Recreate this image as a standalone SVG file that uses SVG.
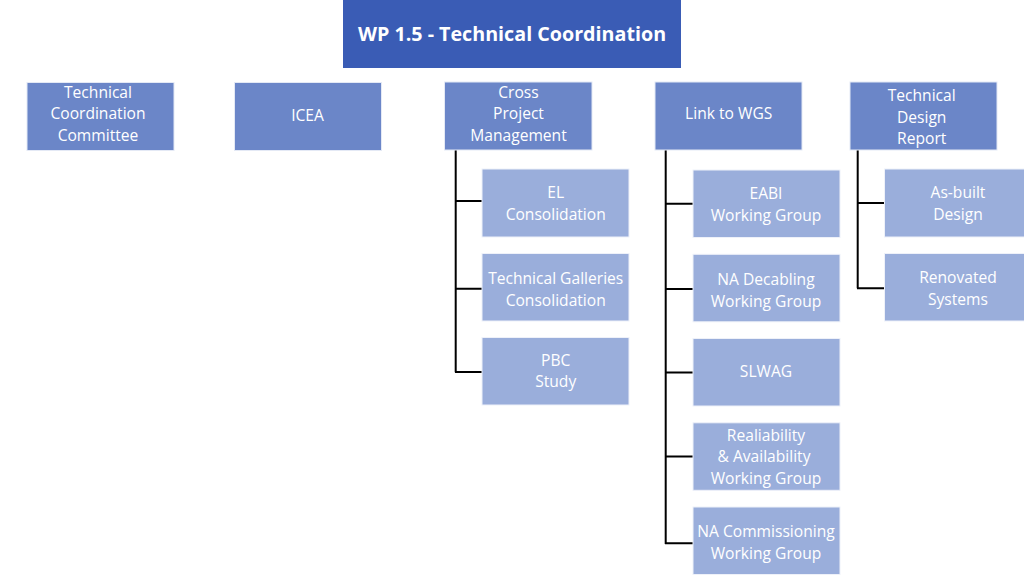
<svg xmlns="http://www.w3.org/2000/svg" width="1024" height="576" viewBox="0 0 1024 576">
<style>
text{font-family:"Open Sans","Noto Sans","Liberation Sans",sans-serif;fill:#ffffff;text-anchor:middle;font-size:15.6px}
.top rect{fill:#3A5CB5}
.l1 rect{fill:#6B86C8;stroke:#E4E9F5;stroke-width:1}
.l2 rect{fill:#9AAEDB;stroke:#EEF1F9;stroke-width:1}
.title{font-size:19.7px;font-weight:bold}
.conn path{fill:none;stroke:#000;stroke-width:2}
</style>
<rect width="1024" height="576" fill="#ffffff"/>
<g id="wp15" class="top"><rect x="343" y="0" width="338" height="68"/><text class="title" x="512" y="41">WP 1.5 - Technical Coordination</text></g>
<g class="conn" id="connectors">
<path d="M455.7 150V372.3M455 201H482M455 288.7H482M455 372H482"/>
<path d="M665.7 150V544M665 203.7H693M665 289H693M665 372.5H693M665 456.5H693M665 543.3H693"/>
<path d="M857.7 150V288.3M857 203H884M857 288.3H884"/>
</g>
<g id="tcc" class="l1"><rect x="27" y="82.5" width="147" height="68"/><text x="98" y="97.5">Technical</text><text x="98" y="119.3">Coordination</text><text x="98" y="141">Committee</text></g>
<g id="icea" class="l1"><rect x="234.5" y="82.5" width="147" height="68"/><text x="307.5" y="120.5">ICEA</text></g>
<g id="cpm" class="l1"><rect x="444.5" y="82" width="147.5" height="68"/><text x="518.5" y="97.7">Cross</text><text x="518.5" y="119.3">Project</text><text x="518.5" y="141">Management</text></g>
<g id="link" class="l1"><rect x="655" y="82" width="147" height="68"/><text x="728.7" y="119">Link to WGS</text></g>
<g id="tdr" class="l1"><rect x="850" y="82" width="147" height="68"/><text x="921.7" y="101">Technical</text><text x="921.7" y="122.7">Design</text><text x="921.7" y="144">Report</text></g>
<g id="el" class="l2"><rect x="482" y="169" width="147" height="68"/><text x="555.7" y="198.3">EL</text><text x="555.7" y="220">Consolidation</text></g>
<g id="tg" class="l2"><rect x="482" y="253.5" width="147" height="67.5"/><text x="555.7" y="284">Technical Galleries</text><text x="555.7" y="305.7">Consolidation</text></g>
<g id="pbc" class="l2"><rect x="482" y="337.5" width="147" height="67.5"/><text x="555.7" y="365.7">PBC</text><text x="555.7" y="387.3">Study</text></g>
<g id="eabi" class="l2"><rect x="693" y="170" width="147" height="67.5"/><text x="766" y="199">EABI</text><text x="766" y="220.7">Working Group</text></g>
<g id="nadec" class="l2"><rect x="693" y="254.3" width="147" height="67.5"/><text x="766" y="285">NA Decabling</text><text x="766" y="306.7">Working Group</text></g>
<g id="slwag" class="l2"><rect x="693" y="338.5" width="147" height="67.5"/><text x="766" y="376.7">SLWAG</text></g>
<g id="ra" class="l2"><rect x="693" y="422.8" width="147" height="67.5"/><text x="766" y="441">Realiability</text><text x="764" y="462.3">&amp; Availability</text><text x="766" y="484">Working Group</text></g>
<g id="nacomm" class="l2"><rect x="693" y="507" width="147" height="67.5"/><text x="766" y="536.7">NA Commissioning</text><text x="766" y="558.7">Working Group</text></g>
<g id="asbuilt" class="l2"><rect x="884.5" y="169" width="147" height="68"/><text x="958" y="198.3">As-built</text><text x="958" y="220">Design</text></g>
<g id="renov" class="l2"><rect x="884.5" y="253.5" width="147" height="67.5"/><text x="958" y="283.3">Renovated</text><text x="958" y="305">Systems</text></g>
</svg>
